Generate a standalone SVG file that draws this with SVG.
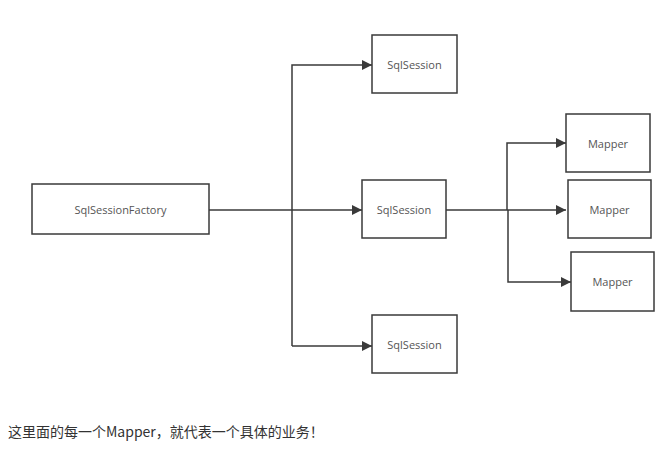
<svg xmlns="http://www.w3.org/2000/svg" width="670" height="452" viewBox="0 0 670 452">
<defs>
<style>
.box{fill:#fff;stroke:#3a3a3a;stroke-width:1.5}
.lbl{font-family:"Open Sans","Liberation Sans",sans-serif;font-size:11px;fill:#555;text-anchor:middle;dominant-baseline:central}
.ln{fill:none;stroke:#3a3a3a;stroke-width:1.5}
.cap{font-family:"Noto Sans CJK SC","Noto Sans",sans-serif;font-size:14px;fill:#333}
</style>
<marker id="ah" viewBox="0 0 10 10" refX="10" refY="5" markerWidth="10" markerHeight="10" markerUnits="userSpaceOnUse" orient="auto">
<path d="M0,0 L10,5 L0,10 z" fill="#3a3a3a"/>
</marker>
</defs>
<rect width="670" height="452" fill="#fff"/>
<g id="connectors">
<path class="ln" d="M209,210 H362" marker-end="url(#ah)"/>
<path class="ln" d="M292,346 V65 H372" marker-end="url(#ah)"/>
<path class="ln" d="M292,346 H372" marker-end="url(#ah)"/>
<path class="ln" d="M446,210 H566" marker-end="url(#ah)"/>
<path class="ln" d="M507,210 V143 H566" marker-end="url(#ah)"/>
<path class="ln" d="M508,210 V282 H571" marker-end="url(#ah)"/>
</g>
<g id="factory"><rect class="box" x="32" y="184" width="177" height="50"/><text class="lbl" x="120.5" y="209">SqlSessionFactory</text></g>
<g id="session1"><rect class="box" x="372" y="35" width="85" height="58"/><text class="lbl" x="414.5" y="64">SqlSession</text></g>
<g id="session2"><rect class="box" x="362" y="180" width="84" height="58"/><text class="lbl" x="404" y="209">SqlSession</text></g>
<g id="session3"><rect class="box" x="372" y="315" width="85" height="58"/><text class="lbl" x="414.5" y="344">SqlSession</text></g>
<g id="mapper1"><rect class="box" x="566" y="114" width="84" height="58"/><text class="lbl" x="608" y="143">Mapper</text></g>
<g id="mapper2"><rect class="box" x="568" y="180" width="83" height="58"/><text class="lbl" x="609.5" y="209">Mapper</text></g>
<g id="mapper3"><rect class="box" x="571" y="252" width="83" height="59"/><text class="lbl" x="612.5" y="281">Mapper</text></g>
<text class="cap" x="8" y="437">这里面的每一个Mapper，就代表一个具体的业务！</text>
</svg>
